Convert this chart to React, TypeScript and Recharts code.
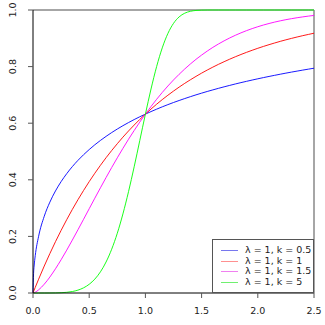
import React from "react";
import { LineChart, Line, XAxis, YAxis, ReferenceLine, Legend } from "recharts";

const xs = [0, 0.005, 0.01, 0.02, 0.05, 0.1, 0.15, 0.2, 0.25, 0.3, 0.35, 0.4, 0.45, 0.5, 0.55, 0.6, 0.65, 0.7, 0.75, 0.8, 0.85, 0.9, 0.95, 1.0, 1.05, 1.1, 1.15, 1.2, 1.25, 1.3, 1.35, 1.4, 1.45, 1.5, 1.55, 1.6, 1.65, 1.7, 1.75, 1.8, 1.85, 1.9, 1.95, 2.0, 2.05, 2.1, 2.15, 2.2, 2.25, 2.3, 2.35, 2.4, 2.45, 2.5];

const k05 = [0, 0.0683, 0.0952, 0.1319, 0.2004, 0.2711, 0.3211, 0.3606, 0.3935, 0.4217, 0.4466, 0.4687, 0.4887, 0.5069, 0.5237, 0.5391, 0.5534, 0.5669, 0.5794, 0.5912, 0.6023, 0.6128, 0.6227, 0.6321, 0.6411, 0.6496, 0.6578, 0.6656, 0.6731, 0.6802, 0.6871, 0.6937, 0.7001, 0.7062, 0.7121, 0.7177, 0.7232, 0.7285, 0.7336, 0.7386, 0.7434, 0.748, 0.7525, 0.7569, 0.7611, 0.7652, 0.7692, 0.7731, 0.7769, 0.7806, 0.7841, 0.7876, 0.791, 0.7943];

const k1 = [0, 0.005, 0.00995, 0.0198, 0.0488, 0.0952, 0.1393, 0.1813, 0.2212, 0.2592, 0.2953, 0.3297, 0.3624, 0.3935, 0.4231, 0.4512, 0.478, 0.5034, 0.5276, 0.5507, 0.5726, 0.5934, 0.6133, 0.6321, 0.6501, 0.6671, 0.6834, 0.6988, 0.7135, 0.7275, 0.7408, 0.7534, 0.7654, 0.7769, 0.7878, 0.7981, 0.808, 0.8173, 0.8262, 0.8347, 0.8428, 0.8504, 0.8577, 0.8647, 0.8713, 0.8775, 0.8835, 0.8892, 0.8946, 0.8997, 0.9046, 0.9093, 0.9137, 0.9179];

const k15 = [0, 0.0004, 0.001, 0.0028, 0.0111, 0.0311, 0.0564, 0.0856, 0.1175, 0.1515, 0.187, 0.2235, 0.2606, 0.2978, 0.335, 0.3717, 0.4079, 0.4433, 0.4777, 0.511, 0.5433, 0.5742, 0.6039, 0.6321, 0.659, 0.6845, 0.7086, 0.7314, 0.7528, 0.7728, 0.7916, 0.8092, 0.8256, 0.8407, 0.8548, 0.8679, 0.8799, 0.891, 0.9012, 0.9106, 0.9192, 0.9271, 0.9343, 0.9409, 0.9469, 0.9523, 0.9573, 0.9617, 0.9658, 0.9694, 0.9727, 0.9757, 0.9784, 0.9808];

const k5 = [0, 0, 0, 0, 0, 0, 0.0001, 0.0003, 0.001, 0.0024, 0.0052, 0.0102, 0.0183, 0.0308, 0.0491, 0.0748, 0.1095, 0.1547, 0.2112, 0.2794, 0.3583, 0.4459, 0.5387, 0.6321, 0.7209, 0.8002, 0.8662, 0.917, 0.9527, 0.9756, 0.9887, 0.9954, 0.9984, 0.9995, 0.9999, 1, 1, 1, 1, 1, 1, 1, 1, 1, 1, 1, 1, 1, 1, 1, 1, 1, 1, 1];

const xTicks = [0, 0.5, 1, 1.5, 2, 2.5];
const yTicks = [0, 0.2, 0.4, 0.6, 0.8, 1];

const seriesNames = ["λ = 1, k = 0.5", "λ = 1, k = 1", "λ = 1, k = 1.5", "λ = 1, k = 5"];
const seriesKeys = ["k05", "k1", "k15", "k5"];
const seriesColors = ["#0000ff", "#ff0000", "#ff00ff", "#00ff00"];
const legendColors = ["#7777ee", "#ff9090", "#f080f0", "#70f070"];

const data = xs.map((x, i) => ({ x, k05: k05[i], k1: k1[i], k15: k15[i], k5: k5[i] }));

const FONT = "'DejaVu Sans', sans-serif";

const YTick = (props: any) => {
  const { x, y, payload } = props;
  return (
    <text
      x={x - 10}
      y={y}
      transform={`rotate(-90, ${x - 10}, ${y})`}
      textAnchor="middle"
      fontSize={9.5}
      fontFamily={FONT}
      fill="#222"
    >
      {payload.value.toFixed(1)}
    </text>
  );
};

const XTick = (props: any) => {
  const { x, y, payload } = props;
  return (
    <text x={x} y={y + 14} textAnchor="middle" fontSize={9.5} fontFamily={FONT} fill="#222">
      {payload.value.toFixed(1)}
    </text>
  );
};

const LegendBox = () => (
  <div
    style={{
      width: 102,
      height: 54,
      border: "1px solid #555",
      background: "#fff",
      boxSizing: "border-box",
      paddingTop: 5,
      fontFamily: FONT,
      fontSize: 9.5,
      color: "#222",
    }}
  >
    {seriesNames.map((n, i) => (
      <div key={n} style={{ display: "flex", alignItems: "center", height: 10.7, lineHeight: "10.7px" }}>
        <div style={{ marginLeft: 8, width: 17, height: 1, background: legendColors[i] }} />
        <span style={{ marginLeft: 7, whiteSpace: "nowrap" }}>{n}</span>
      </div>
    ))}
  </div>
);

export default function App() {
  return (
    <div style={{ position: "absolute", left: 0, top: 0, width: 325, height: 325, background: "#fff" }}>
      <LineChart width={325} height={325} data={data} margin={{ top: 10, right: 11, bottom: 0, left: 0 }}>
        <XAxis
          dataKey="x"
          type="number"
          domain={[0, 2.5]}
          ticks={xTicks}
          height={32}
          axisLine={{ stroke: "#000" }}
          tickLine={{ stroke: "#555" }}
          tickSize={5}
          tick={<XTick />}
        />
        <YAxis
          type="number"
          domain={[0, 1]}
          ticks={yTicks}
          width={33}
          axisLine={{ stroke: "#000" }}
          tickLine={{ stroke: "#555" }}
          tickSize={5}
          tick={<YTick />}
        />
        <ReferenceLine y={1} stroke="#888" strokeWidth={1.5} />
        <ReferenceLine x={2.5} stroke="#888" strokeWidth={1.5} />
        {seriesKeys.map((k, i) => (
          <Line
            key={k}
            dataKey={k}
            type="monotone"
            stroke={seriesColors[i]}
            strokeWidth={0.9}
            dot={false}
            isAnimationActive={false}
          />
        ))}
        <Legend
          layout="vertical"
          align="center"
          verticalAlign="middle"
          content={<LegendBox />}
          wrapperStyle={{ position: "absolute", left: 212, top: 239, width: 102, height: 54 }}
        />
      </LineChart>
    </div>
  );
}
